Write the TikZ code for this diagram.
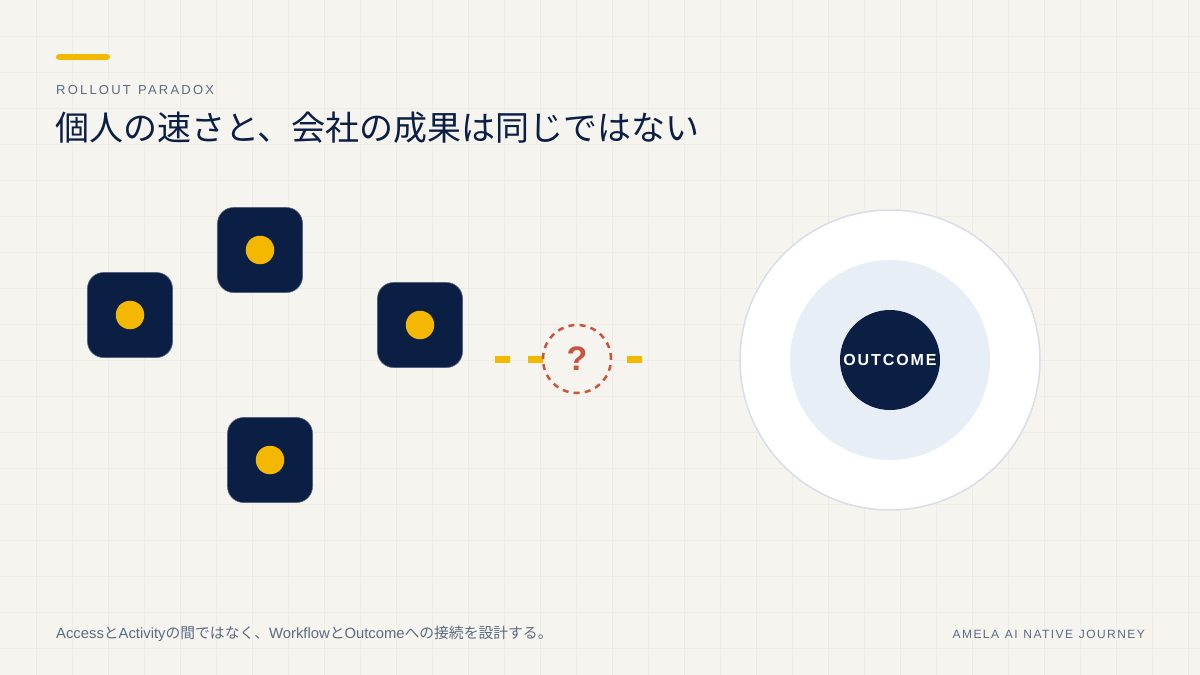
\documentclass[tikz,border=0pt]{standalone}
\usepackage{fontspec}
\setmainfont{Liberation Sans}
\newfontfamily\jp{Noto Sans CJK JP}
\newfontfamily\kicker[LetterSpace=17]{Liberation Sans}
\newfontfamily\brand[LetterSpace=12]{Liberation Sans}
\newfontfamily\outc[LetterSpace=12]{Liberation Sans}
\definecolor{bg}{HTML}{F5F4EF}
\definecolor{gridc}{HTML}{EDECE6}
\definecolor{navy}{HTML}{0B1F45}
\definecolor{accent}{HTML}{F5B800}
\definecolor{muted}{HTML}{5E6A82}
\definecolor{rust}{HTML}{C8553D}
\definecolor{ring}{HTML}{D8DDE8}
\definecolor{midfill}{HTML}{E7EEF6}
\begin{document}
\begin{tikzpicture}[x=1pt,y=-1pt,
  agent/.style={rectangle, rounded corners=16pt, fill=navy, draw=navy!70!white, line width=0.6pt, minimum size=85pt, inner sep=0pt},
  dot/.style={circle, fill=accent, minimum size=28.5pt, inner sep=0pt},
  qcircle/.style={circle, minimum size=68pt, inner sep=0pt, draw=rust, line width=2.5pt, dash pattern=on 6pt off 5.2pt, fill=bg, text=rust, font=\bfseries\fontsize{34}{34}\selectfont},
  gap/.style={draw=accent, line width=7pt, dash pattern=on 15pt off 18pt},
  label/.style={inner sep=0pt, anchor=base west}
]
\useasboundingbox (0,0) rectangle (1200,675);
\fill[bg] (0,0) rectangle (1200,675);
\foreach \i in {1,...,33} \draw[gridc, line width=0.5pt] (\i*36,0) -- (\i*36,675);
\foreach \j in {1,...,18} \draw[gridc, line width=0.5pt] (0,\j*36) -- (1200,\j*36);

% header
\node[fill=accent, rounded corners=2.8pt, minimum width=54pt, minimum height=5.6pt, inner sep=0pt] (bar) at (83,57) {};
\node[label, text=muted, font=\kicker\fontsize{13}{13}\selectfont] (kick) at (56,94) {ROLLOUT\kern1.5pt{} PARADOX};
\node[label, text=navy, font=\jp\fontsize{34}{34}\selectfont] (title) at (55,140) {個人の速さと、会社の成果は同じではない};

% agents
\node[agent] (a1) at (130,315) {};
\node[agent] (a2) at (260,250) {};
\node[agent] (a3) at (420,325) {};
\node[agent] (a4) at (270,460) {};
\node[dot] (d1) at (a1.center) {};
\node[dot] (d2) at (a2.center) {};
\node[dot] (d3) at (a3.center) {};
\node[dot] (d4) at (a4.center) {};

% broken link
\coordinate (ls) at (495,359);
\coordinate (le) at (642,359);
\draw[gap] (ls) -- (le);
\node[qcircle] (q) at (577,359) {?};

% outcome target
\node[circle, fill=white, draw=ring, line width=1.5pt, minimum size=300pt, inner sep=0pt] (outer) at (890,360) {};
\node[circle, fill=midfill, minimum size=200pt, inner sep=0pt] (midc) at (outer.center) {};
\node[circle, fill=navy, minimum size=100pt, inner sep=0pt, text=white, font=\outc\bfseries\fontsize{16}{16}\selectfont] (core) at (outer.center) {OUTCOME};

% footer
\node[label, text=muted, font=\fontsize{14.8}{14.8}\selectfont] (foot) at (56,638) {Access{\jp と}Activity{\jp の間ではなく、}Workflow{\jp と}Outcome{\jp への接続を設計する。}};
\node[inner sep=0pt, anchor=base east, text=muted, font=\brand\fontsize{12}{12}\selectfont] (brandl) at (1145,638) {AMELA\kern1pt{} AI\kern1pt{} NATIVE\kern1pt{} JOURNEY};
\end{tikzpicture}
\end{document}
